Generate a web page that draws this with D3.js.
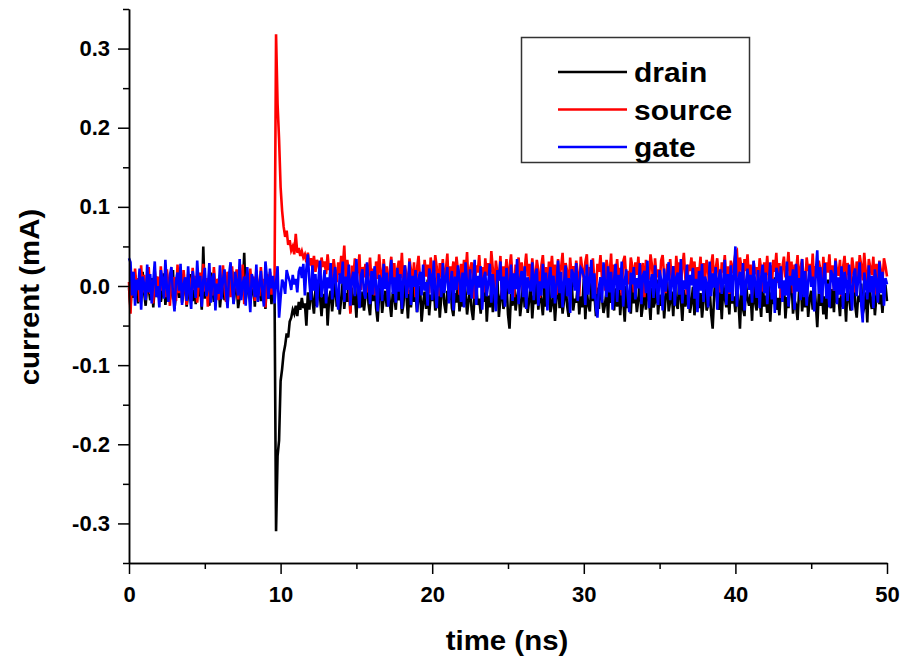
<!DOCTYPE html>
<html>
<head>
<meta charset="utf-8">
<script src="https://cdn.jsdelivr.net/npm/d3@7"></script>
<style>
  body { margin: 0; background: #fff; }
  text { font-family: "Liberation Sans", Arial, sans-serif; font-weight: bold; fill: #000; }
  .axis path, .axis line { stroke: #000; stroke-width: 1.5; }
</style>
</head>
<body>
<div id="chart"></div>
<script>
// sample step of the scope trace (ns)
var dt = 0.1;

// currents in uA, one sample every dt ns starting at t = 0
var drainUA = [
  -2, -28, 8, -15, 14, -6, -22, 3, -12, 18, -9, -25, 5, -4, -18, 10, -27, -1, 12, -14,
  4, -20, -8, 16, -24, -3, 9, -17, -6, 20, -29, -10, 2, -15, 13, -21, -5, 7, -26, -11,
  15, -7, -19, 1, -23, 11, -13, -2, -30, 50, -16, 6, -9, -25, 17, -4, -20, 3, -12, 9,
  -27, -6, 14, -18, -1, -24, 8, -10, 19, -22, -5, 2, -28, -13, 10, -8, 42, -17, -3, 12,
  -21, -9, 6, -26, 15, -14, -2, -19, 4, -11, -29, 7, -16, 1, -23, 11,
  -4, -310, -215, -195, -120, -105, -85, -75, -60, -65, -45, -40, -30, -35, -25, -38, -20, -30, -15, -28,
  -22, -50, -8, -30, 2, -18, -35, -5, -25, 8, -14, -38, -10, -28, 4, -50, -16, -6, -32, -12,
  10, -26, -4, -36, -15, 6, -29, -9, -20, 12, -33, -2, -24, -11, -40, 3, -17, -27, -7, -31,
  -13, 9, -23, -37, -3, -19, 5, -28, -45, -10, 1, -34, -16, -6, -26, 11, -21, -39, -8, -14,
  -30, 4, -18, -2, -35, -24, 7, -12, -41, -5, -27, 13, -20, -9, -33, -15, 0, -45, -22, -7,
  -29, 8, -37, -11, -19, 2, -31, -25, -4, -40, -13, 10, -23, -34, -6, -17, 5, -28, -38, -9,
  -21, 3, -32, -14, -26, 12, -8, -36, -18, -1, -30, -43, -11, 6, -24, -16, -35, -3, -20, 9,
  -45, -12, -27, 1, -33, -7, -22, 11, -39, -15, -5, -29, -19, 4, -36, -54, -10, -25, 7, -31,
  -14, -3, -38, -20, 8, -27, -9, -34, -17, 2, -41, -12, -23, 10, -30, -6, -19, -37, 0, -26,
  -11, 5, -33, -22, -8, -44, -15, 13, -28, -4, -35, -18, 3, -25, -39, -10, 6, -31, -16, -21,
  1, -36, -13, -27, 9, -42, -7, -24, -32, 4, -19, -11, -38, -2, -29, 11, -16, -34, -23, -5,
  -40, 7, -21, -14, -31, -3, -26, 12, -37, -9, -18, -45, 0, -28, -12, -35, 5, -22, -6, -33,
  -17, 10, -39, -24, -8, -30, 3, -15, -43, -2, -27, -20, 8, -36, -11, -25, -4, -41, -13, 6,
  -32, -19, -7, -38, 2, -23, -29, 11, -16, -44, -5, -26, -12, 9, -34, -21, -1, -37, -14, 4,
  -28, -9, -40, -18, 7, -31, -24, -3, -35, -54, -11, 12, -20, -30, -6, -42, 1, -15, -27, -8,
  -36, 5, -22, -13, -33, 10, -19, -54, -4, -29, -38, 3, -16, -25, -10, -44, 8, -21, -31, -2,
  -17, -39, 6, -26, -12, -34, 1, -45, -8, -23, 11, -30, -15, -37, -5, -20, 4, -41, -14, -28,
  -3, 9, -35, -18, -24, -43, -7, 13, -32, -11, -27, 2, -39, -16, -6, -30, 7, -22, -52, -10,
  -25, 0, -36, -13, -42, 8, -19, -28, -4, -33, 10, -21, -15, -38, -1, -26, -9, -45, 5, -17,
  -31, -6, 12, -24, -40, -12, -20, 3, -35, -27, -8, -46, 6, -18, -29, -2, -37, -14, 9, -23,
  -11, -34, -5, 1, -19
];

var sourceUA = [
  5, -35, 18, -12, 22, -4, 10, -20, 26, -8, 14, -16, 3, 24, -10, 7, -22, 19, -2, 12,
  -18, 25, -6, 9, -14, 21, 1, -25, 16, -3, 11, -19, 27, -9, 6, -13, 20, -1, -24, 15,
  8, -11, 23, -5, 13, -21, 2, 17, -15, 28, -7, 10, -26, 19, 4, -12, 24, -3, 9, -18,
  14, -8, 26, -2, -20, 18, 6, -14, 25, -10, 3, 21, -17, 11, -5, 27, -23, 7, 16, -9,
  22, -4, 12, -19, 20, 1, -13, 24, -7, 9, -27, 15, -2, 18, -11, 6,
  4, 318, 230, 185, 125, 95, 75, 62, 70, 52, 58, 45, 50, 40, 66, 42, 48, 38, 44, 36,
  40, 30, 42, 26, 35, 22, 38, 18, 33, 28, 12, 36, 24, 31, 15, 40, 20, 27, 10, 34,
  18, 5, 30, 14, 38, 22, 51, 8, 33, 16, -35, 26, 12, 35, 6, 20, 40, -5, 24, 11,
  28, -8, 15, 36, 3, 22, -12, 31, 9, 40, 17, -2, 34, 13, 25, -15, 19, 37, 6, 29,
  -6, 21, 32, 10, 42, 1, 26, 14, -10, 35, 20, 4, 30, -14, 23, 38, 8, 16, -4, 33,
  12, 27, -9, 36, 18, 5, 39, 24, -13, 29, 11, 34, 2, 20, 41, -7, 25, 15, 31, 0,
  37, 19, -11, 28, 8, 33, 14, 43, -3, 22, 30, 6, -16, 26, 17, 39, 10, 24, -8, 35,
  13, 29, 3, 44, 21, -5, 32, 16, 7, 38, -12, 25, 11, 34, 1, 23, 40, 9, -14, 27,
  18, 36, 4, 30, -9, 22, 41, 12, 28, -2, 35, 15, 6, 33, 20, -15, 26, 39, 10, 24,
  -4, 31, 17, 38, 7, 27, -11, 34, 14, 23, 42, 2, 29, 19, -7, 36, 11, 25, 3, 32,
  16, -13, 37, 21, 8, 30, 40, -1, 24, 13, 35, 5, -10, 28, 18, 39, 9, 26, -6, 33,
  20, 12, 41, -3, 27, 15, 34, 6, 23, -12, 31, 38, 10, 19, 2, 36, 25, -8, 30, 14,
  37, 4, 22, 29, -14, 33, 17, 8, 40, 26, -5, 35, 11, 21, 1, 32, 39, 13, -9, 28,
  18, 34, 7, 25, -2, 38, 15, 30, 3, 23, 42, 10, -11, 27, 19, 36, 5, 31, -6, 24,
  14, 37, -4, 29, 9, 33, 20, -13, 26, 40, 2, 22, 35, 12, -8, 30, 17, 39, 6, 25,
  -10, 32, 16, 28, 41, 44, 11, 36, 23, -3, 34, 19, 40, 7, 27, -12, 31, 15, 24, 1,
  35, 21, -7, 30, 13, 38, 8, 26, -1, 33, 18, 42, 4, 29, -15, 24, 37, 11, 20, 43,
  6, 31, -9, 27, 16, 39, 2, 23, 34, 12, -5, 36, 19, 28, 9, 41, -2, 25, 14, 32,
  22, -11, 37, 10, 30, 17, 40, 5, 26, -6, 35, 20, 13, 33, -13, 24, 38, 8, 29, 15,
  3, 36, 21, -8, 31, 11, 39, 26, 7, 42, 18, -4, 34, 23, 14, 37, -10, 28, 9, 32,
  19, 4, 35, 25, 12
];

var gateUA = [
  35, 30, -12, 18, -25, 8, -5, 22, -30, 12, 2, -18, 27, -8, 15, -22, 5, 31, -14, 0,
  -27, 20, 9, -16, 33, -3, -20, 14, 24, -11, -32, 6, 17, -6, 28, -24, 1, 11, -19, 25,
  -9, -29, 19, 4, -15, 32, -2, 13, -26, 7, 23, -13, -4, 29, -21, 10, 16, -31, 3, -10,
  26, -17, 8, 21, -7, -28, 14, 30, -1, -23, 18, 5, -12, 34, -18, 2, 12, -25, 24, -5,
  -33, 15, 7, -14, 27, -20, 0, 19, -8, -26, 31, 10, -16, 22, -3, 13,
  -22, 5, 25, -40, -15, 8, 3, -10, 20, 12, 6, -5, 14, 2, 9, -8, 18, 24, 10, 28,
  -12, 22, 40, 5, -18, 26, -6, 15, -27, 9, 32, -14, 1, 20, -22, 11, -3, 29, -17, 7,
  24, -9, -30, 16, 3, 31, -20, 12, -5, 27, -25, 8, 18, -13, 34, -2, -28, 13, 21, -8,
  -16, 30, 6, -23, 19, -11, 25, 0, -32, 14, 9, -19, 28, -4, 17, -26, 4, 33, -10, 11,
  -21, 23, -7, 15, -29, 8, 26, -15, 2, 31, -24, 13, -1, 20, -33, 10, 18, -12, 27, -6,
  5, -25, 22, 14, -18, 32, -3, -28, 16, 7, -14, 29, -9, 11, 24, -22, 1, 19, -31, 12,
  -5, 26, 9, -20, 17, -27, 30, 3, -11, 21, -16, 6, 33, -24, 13, -2, 25, -30, 10, 18,
  -13, 4, 28, -21, 15, -8, -32, 20, 7, 31, -17, 12, -26, 23, 0, -10, 27, -19, 16, -4,
  34, -23, 8, 19, -14, 25, -29, 11, 2, -7, 30, -18, 14, 22, -25, 6, -12, 28, -3, 17,
  -31, 9, 24, -15, 13, -22, 1, 32, -9, 18, -27, 5, 26, -13, 10, -34, 21, 15, -6, 29,
  -19, 3, 23, 20, 12, -24, 27, -11, 7, 33, -16, 16, -28, -40, -1, 11, -21, 30, 4, -14,
  25, -8, 18, -30, 9, 28, -20, 14, -5, 31, -26, 6, 21, -12, -33, 17, 2, 24, -17, 10,
  -3, 29, -23, 13, 19, -9, 32, -28, 5, 15, -15, 26, -1, -24, 20, 8, -31, 22, -7, 12,
  30, -18, 4, 25, -25, 11, 17, -11, 34, -22, 7, -4, 27, -29, 14, 1, 23, -16, 9, -33,
  19, -6, 28, -20, 12, 3, -27, 31, -13, 16, -2, 24, -30, 10, 21, -10, 6, 33, -24, 15,
  -8, 26, -19, 13, 50, -26, 8, 18, -12, 29, -31, 5, 22, -5, 14, -21, 32, 2, -15, 20,
  -28, 11, 27, -9, 17, -23, 4, 30, -17, 9, -34, 23, 15, -3, 25, -20, 7, -12, 31, -26,
  13, 1, 21, -30, 28, -7, 10, -18, 34, -14, 19, -25, 6, 26, -1, 12, -32, 16, 45, -10,
  24, -21, 8, 29, -16, 3, -27, 20, 14, -6, 32, -23, 11, -11, 25, -29, 18, 5, -19, 27,
  -2, -31, 15, 22, -13, 9, 30, -24, -46, 17, 4, -17, 26, -8, 13, -28, 21, 7, -21, 31,
  -9, 18, -25, 10, 2
];

var seriesNames = ["drain", "source", "gate"];
var seriesColors = ["#000000", "#ff0000", "#0000ff"];

var xTicks = [0, 10, 20, 30, 40, 50];
var xTickLabels = ["0", "10", "20", "30", "40", "50"];
var xMinor = [5, 15, 25, 35, 45];
var yTicks = [-0.3, -0.2, -0.1, 0, 0.1, 0.2, 0.3];
var yTickLabels = ["-0.3", "-0.2", "-0.1", "0.0", "0.1", "0.2", "0.3"];
var yMinor = [-0.35, -0.25, -0.15, -0.05, 0.05, 0.15, 0.25, 0.35];

var width = 901;
var height = 657;

var svg = d3.select("#chart")
  .append("svg")
  .attr("width", width)
  .attr("height", height);

var x = d3.scaleLinear()
  .domain([0, 50])
  .range([129, 887]);

var y = d3.scaleLinear()
  .domain([-0.35, 0.35])
  .range([563, 9]);

/* traces */
var line = d3.line()
  .x(function (d, i) { return x(i * dt); })
  .y(function (d) { return y(d / 1000); });

[drainUA, sourceUA, gateUA].forEach(function (s, k) {
  svg.append("path")
    .datum(s)
    .attr("fill", "none")
    .attr("stroke", seriesColors[k])
    .attr("stroke-width", 2.6)
    .attr("d", line);
});

/* axes */
svg.append("g")
  .attr("class", "axis")
  .attr("transform", "translate(0," + y(-0.35) + ")")
  .call(d3.axisBottom(x).tickValues(xMinor).tickSize(6).tickSizeOuter(0).tickFormat(""));

svg.append("g")
  .attr("class", "axis")
  .attr("transform", "translate(0," + y(-0.35) + ")")
  .call(d3.axisBottom(x).tickValues(xTicks).tickSize(11).tickSizeOuter(0).tickPadding(12)
    .tickFormat(function (d, i) { return xTickLabels[i]; }))
  .selectAll("text")
  .style("font-size", "22px");

svg.append("g")
  .attr("class", "axis")
  .attr("transform", "translate(" + x(0) + ",0)")
  .call(d3.axisLeft(y).tickValues(yMinor).tickSize(6).tickSizeOuter(0).tickFormat(""));

svg.append("g")
  .attr("class", "axis")
  .attr("transform", "translate(" + x(0) + ",0)")
  .call(d3.axisLeft(y).tickValues(yTicks).tickSize(11).tickSizeOuter(0).tickPadding(8)
    .tickFormat(function (d, i) { return yTickLabels[i]; }))
  .selectAll("text")
  .style("font-size", "22px");

// the original text is a bit wider than Liberation Sans, so stretch it
svg.append("text")
  .attr("transform", "translate(507,650) scale(1.09,1)")
  .attr("text-anchor", "middle")
  .style("font-size", "27px")
  .text("time (ns)");

svg.append("text")
  .attr("transform", "translate(39,297) rotate(-90) scale(1.09,1)")
  .attr("text-anchor", "middle")
  .style("font-size", "27px")
  .text("current (mA)");

/* legend */
var legend = svg.append("g");

legend.append("rect")
  .attr("x", 521.5)
  .attr("y", 37.5)
  .attr("width", 228)
  .attr("height", 125)
  .attr("fill", "#fff")
  .attr("stroke", "#333")
  .attr("stroke-width", 1.5);

seriesNames.forEach(function (name, k) {
  var ly = 72 + k * 37.5;
  legend.append("line")
    .attr("x1", 558).attr("x2", 627)
    .attr("y1", ly).attr("y2", ly)
    .attr("stroke", seriesColors[k])
    .attr("stroke-width", 2.6);
  legend.append("text")
    .attr("transform", "translate(634," + (ly + 10) + ") scale(1.11,1)")
    .style("font-size", "27px")
    .text(name);
});
</script>
</body>
</html>
